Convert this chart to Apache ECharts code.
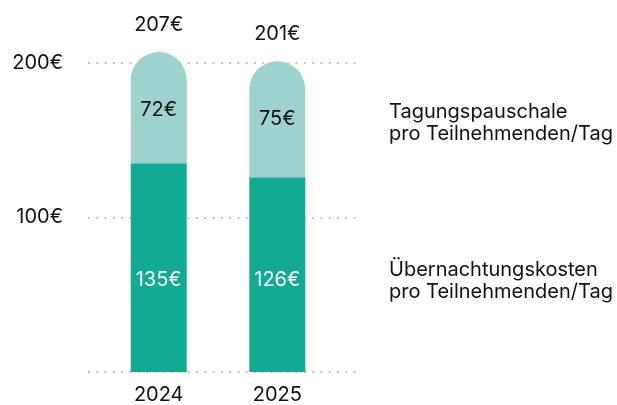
<!DOCTYPE html>
<html>
<head>
<meta charset="utf-8">
<script src="https://cdn.jsdelivr.net/npm/echarts@6/dist/echarts.min.js"></script>
<style>
  html, body { margin: 0; padding: 0; background: #fff; }
  #chart { width: 617px; height: 405px; }
</style>
</head>
<body>
<div id="chart"></div>
<script>
// Daten
var years = ['2024', '2025']
var uebernachtung = [135, 126] // Übernachtungskosten pro Teilnehmenden/Tag
var pauschale = [72, 75] // Tagungspauschale pro Teilnehmenden/Tag
var yTicks = [0, 100, 200]

var totals = years.map(function (y, i) { return uebernachtung[i] + pauschale[i] })

var font = 'Inter, "Noto Sans", sans-serif'
var euro = function (v) { return v + '€' }

var chart = echarts.init(document.getElementById('chart'))
chart.setOption({
  animation: false,
  textStyle: { fontFamily: font },
  grid: [
    // Raster mit Hilfslinien
    { left: 88, right: 259, top: 32, bottom: 33, outerBoundsMode: 'none' },
    // Balken
    { left: 99.4, right: 280.4, top: 32, bottom: 33, outerBoundsMode: 'none' }
  ],
  xAxis: [
    { gridIndex: 0, type: 'value', min: 0, max: 1, show: false },
    {
      gridIndex: 1,
      type: 'category',
      data: years,
      axisLine: { show: false },
      axisTick: { show: false },
      axisLabel: { color: '#111', fontSize: 20, margin: 13, fontFamily: font }
    }
  ],
  yAxis: [
    {
      gridIndex: 0,
      type: 'value',
      min: yTicks[0],
      max: 220,
      interval: 100,
      axisLine: { show: false },
      axisTick: { show: false },
      axisLabel: {
        color: '#111',
        fontSize: 20,
        margin: 25,
        fontFamily: font,
        showMaxLabel: false,
        formatter: function (v) { return yTicks.indexOf(v) > 0 ? euro(v) : '' }
      },
      splitLine: {
        show: true,
        showMaxLine: false,
        lineStyle: { color: '#c4c4c4', width: 2, type: [2, 6.3] }
      }
    },
    { gridIndex: 1, type: 'value', min: 0, max: 220, show: false }
  ],
  series: [
    {
      name: 'Übernachtungskosten',
      type: 'bar',
      xAxisIndex: 1,
      yAxisIndex: 1,
      stack: 'kosten',
      barWidth: 56,
      data: uebernachtung,
      itemStyle: { color: '#12A995' },
      label: {
        show: true,
        position: 'insideBottom',
        distance: 82,
        color: '#fff',
        fontSize: 20,
        fontFamily: font,
        formatter: function (p) { return euro(p.value) }
      }
    },
    {
      name: 'Tagungspauschale',
      type: 'bar',
      xAxisIndex: 1,
      yAxisIndex: 1,
      stack: 'kosten',
      barWidth: 56,
      data: pauschale,
      itemStyle: { color: '#9DD3CC', borderRadius: [28, 28, 0, 0] },
      label: {
        show: true,
        position: 'insideTop',
        distance: 48,
        color: '#111',
        fontSize: 20,
        fontFamily: font,
        formatter: function (p) { return euro(p.value) }
      }
    },
    {
      // Summe über dem Balken
      name: 'Summe',
      type: 'bar',
      xAxisIndex: 1,
      yAxisIndex: 1,
      barWidth: 56,
      barGap: '-100%',
      z: 1,
      data: totals,
      itemStyle: { color: 'rgba(0,0,0,0)' },
      label: {
        show: true,
        position: 'top',
        distance: 17,
        color: '#111',
        fontSize: 20,
        fontFamily: font,
        formatter: function (p) { return euro(p.value) }
      }
    }
  ],
  graphic: [
    {
      type: 'text',
      left: 389,
      top: 101,
      style: {
        text: 'Tagungspauschale\npro Teilnehmenden/Tag',
        font: '20px ' + font,
        fill: '#111',
        lineHeight: 22
      }
    },
    {
      type: 'text',
      left: 389,
      top: 259,
      style: {
        text: 'Übernachtungskosten\npro Teilnehmenden/Tag',
        font: '20px ' + font,
        fill: '#111',
        lineHeight: 22
      }
    }
  ]
})
</script>
</body>
</html>
